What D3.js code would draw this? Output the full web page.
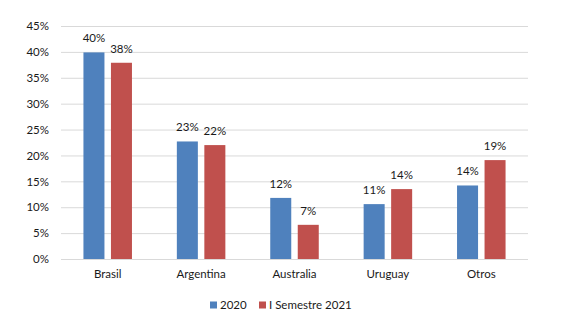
<!DOCTYPE html>
<html>
<head>
<meta charset="utf-8">
<script src="https://cdn.jsdelivr.net/npm/d3@7"></script>
<style>
  html, body { margin: 0; padding: 0; background: #fff; }
  svg { display: block; }
  text { font-family: Lato, "Open Sans", sans-serif; fill: #1a1a1a; }
</style>
</head>
<body>
<svg id="chart" width="567" height="328"></svg>
<script>
// Share by origin, 2020 vs first half of 2021
const categories = ["Brasil", "Argentina", "Australia", "Uruguay", "Otros"];
const seriesNames = ["2020", "I Semestre 2021"];
const values2020 = [0.399, 0.227, 0.118, 0.106, 0.142];
const valuesS2021 = [0.379, 0.220, 0.066, 0.135, 0.191];
const yTicks = [0, 0.05, 0.10, 0.15, 0.20, 0.25, 0.30, 0.35, 0.40, 0.45];
const colors = ["#4F81BD", "#C0504D"];

const svg = d3.select("#chart");
const margin = { left: 61, right: 39, top: 26, bottom: 69 };
const W = 567, H = 328;

const x = d3.scaleBand()
  .domain(categories)
  .range([margin.left, W - margin.right])
  .paddingInner(0)
  .paddingOuter(0);

const x1 = d3.scaleBand()
  .domain(seriesNames)
  .range([0, x.bandwidth()])
  .paddingInner(0.236)
  .paddingOuter(0.816);

const y = d3.scaleLinear()
  .domain([0, 0.45])
  .range([H - margin.bottom, margin.top]);

const fmt = d3.format(".0%");

// gridlines
const yAxis = d3.axisLeft(y)
  .tickValues(yTicks)
  .tickFormat(fmt)
  .tickSize(-(W - margin.left - margin.right))
  .tickPadding(12);

const gy = svg.append("g")
  .attr("transform", `translate(${margin.left},0)`)
  .call(yAxis);
gy.select(".domain").remove();
gy.selectAll(".tick line").attr("stroke", "#d9d9d9").attr("stroke-width", 1);
gy.selectAll(".tick text")
  .attr("font-size", 11.5)
  .style("font-family", "Lato, 'Open Sans', sans-serif")
  .attr("fill", "#1a1a1a");

// category axis labels
const xAxis = d3.axisBottom(x).tickSize(0).tickPadding(11);
const gx = svg.append("g")
  .attr("transform", `translate(0,${H - margin.bottom})`)
  .call(xAxis);
gx.select(".domain").remove();
gx.selectAll(".tick text")
  .attr("font-size", 11.5)
  .style("font-family", "Lato, 'Open Sans', sans-serif")
  .attr("fill", "#1a1a1a");

const rows = categories.map((c, i) => ({
  cat: c,
  vals: [
    { s: seriesNames[0], v: values2020[i], c: colors[0] },
    { s: seriesNames[1], v: valuesS2021[i], c: colors[1] }
  ]
}));

const groups = svg.append("g").selectAll("g")
  .data(rows)
  .join("g")
  .attr("transform", d => `translate(${x(d.cat)},0)`);

groups.selectAll("rect")
  .data(d => d.vals)
  .join("rect")
  .attr("x", d => x1(d.s))
  .attr("width", x1.bandwidth())
  .attr("y", d => y(d.v))
  .attr("height", d => y(0) - y(d.v))
  .attr("fill", d => d.c);

groups.selectAll("text.val")
  .data(d => d.vals)
  .join("text")
  .attr("class", "val")
  .attr("x", d => x1(d.s) + x1.bandwidth() / 2)
  .attr("y", d => y(d.v) - 10)
  .attr("text-anchor", "middle")
  .attr("font-size", 11.5)
  .text(d => fmt(d.v));

// legend
const legend = svg.append("g").attr("transform", "translate(210,305)");
const legendItems = [
  { name: seriesNames[0], c: colors[0], x: 0 },
  { name: seriesNames[1], c: colors[1], x: 49 }
];
const li = legend.selectAll("g").data(legendItems).join("g")
  .attr("transform", d => `translate(${d.x},0)`);
li.append("rect").attr("x", 0).attr("y", -3.5).attr("width", 7).attr("height", 7).attr("fill", d => d.c);
li.append("text").attr("x", 10).attr("y", 4).attr("font-size", 11.5).text(d => d.name);
</script>
</body>
</html>
